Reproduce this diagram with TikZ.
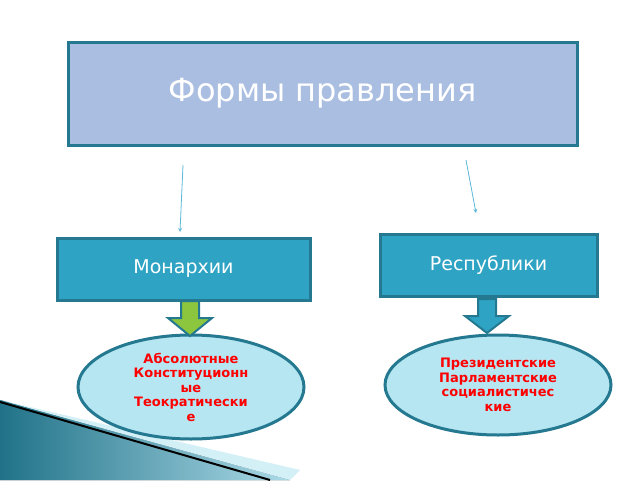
\documentclass[tikz,border=0pt]{standalone}
\usepackage{fontspec}
\setmainfont{DejaVu Sans}
\usetikzlibrary{shapes.geometric}
\begin{document}
\begin{tikzpicture}[x=1pt,y=-1pt,
  box/.style={draw=bord,line width=3pt,text=white},
  ell/.style={draw=bord,line width=3pt,fill=ellf,ellipse,text=red,font=\bfseries\fontsize{13}{14.5}\selectfont,align=center},
  thin/.style={draw=thinc,line width=0.8pt,-stealth}]
\definecolor{bord}{HTML}{24788F}
\definecolor{topf}{HTML}{A9BEE0}
\definecolor{midf}{HTML}{2EA3C3}
\definecolor{ellf}{HTML}{B5E6F2}
\definecolor{thinc}{HTML}{5CB8D6}
\definecolor{grn}{HTML}{8CC63F}
\useasboundingbox (0,0) rectangle (640,480);
\fill[white] (0,0) rectangle (640,480);
% decoration
\fill[left color=midf!70!black,right color=midf!40] (0,400) -- (290,480) -- (0,480) -- cycle;
\fill[ellf!60] (0,400) -- (300,470) -- (290,480) -- cycle;
\draw[black,line width=2pt] (0,402) -- (270,480);
% boxes
\node[box,fill=topf,minimum width=509pt,minimum height=103pt,font=\fontsize{32}{36}\selectfont] (t) at (322.5,93.5) {Формы правления};
\node[box,fill=midf,minimum width=253pt,minimum height=62pt,font=\fontsize{19}{22}\selectfont] (m) at (183.5,269) {Монархии};
\node[box,fill=midf,minimum width=217pt,minimum height=62pt,font=\fontsize{19}{22}\selectfont] (r) at (488.5,265) {Республики};
\coordinate (a1) at (183,165); \coordinate (a2) at (180,232);
\coordinate (b1) at (466,160); \coordinate (b2) at (476,213);
\draw[thin] (a1) -- (a2);
\draw[thin] (b1) -- (b2);
% ellipses
\node[ell,minimum width=226pt,minimum height=104pt,inner sep=0pt] (e1) at (191,387) {Абсолютные\\Конституционн\\ые\\Теократически\\е};
\node[ell,minimum width=226pt,minimum height=100pt,inner sep=0pt] (e2) at (498,385) {Президентские\\Парламентские\\социалистичес\\кие};
% block arrows
\draw[bord,line width=2pt,fill=grn] (181,301) -- (199,301) -- (199,318) -- (212,318) -- (190,336) -- (168,318) -- (181,318) -- cycle;
\draw[bord,line width=2pt,fill=midf] (478,299) -- (496,299) -- (496,316) -- (509,316) -- (487,333) -- (465,316) -- (478,316) -- cycle;
\end{tikzpicture}
\end{document}
